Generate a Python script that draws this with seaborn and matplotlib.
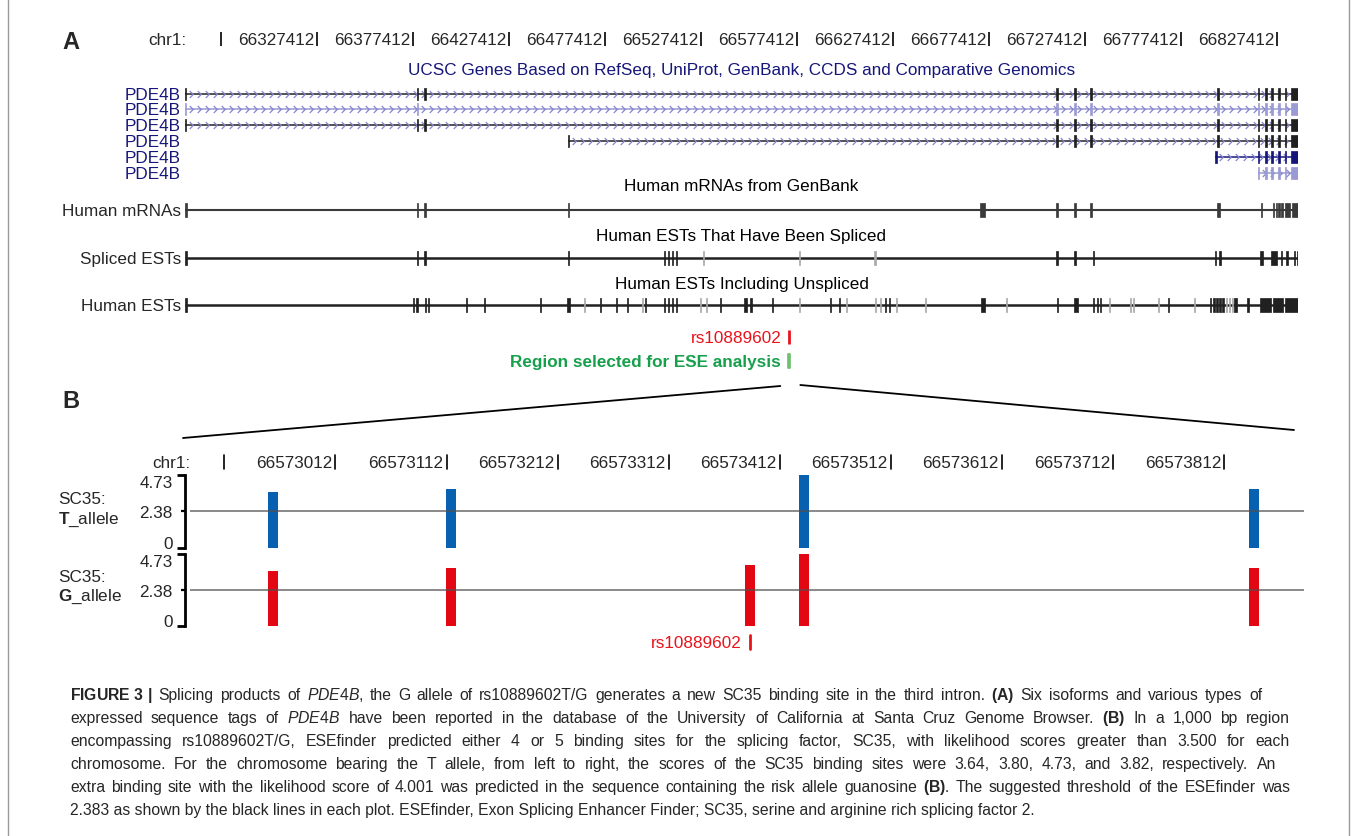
import re
import numpy as np
import pandas as pd
import matplotlib
matplotlib.use("Agg")
import matplotlib.pyplot as plt
import matplotlib.transforms as mtransforms
from matplotlib.path import Path
import seaborn as sns

# ---------------------------------------------------------------- data
# Panel A: UCSC browser view, chr1 positions (bp)
A_START, A_END = 66258700, 66838300
A_TICKS = [66277412, 66327412, 66377412, 66427412, 66477412, 66527412,
           66577412, 66627412, 66677412, 66727412, 66777412, 66827412]
A_TICK_LABELS = ["", "66327412", "66377412", "66427412", "66477412", "66527412",
                 "66577412", "66627412", "66677412", "66727412", "66777412", "66827412"]

ISO_NAMES = ["PDE4B", "PDE4B", "PDE4B", "PDE4B", "PDE4B", "PDE4B"]
ISO_STARTS = [66258700, 66258700, 66258700, 66458100, 66795300, 66817300]
ISO_ENDS = [66838300, 66838300, 66838300, 66838300, 66838300, 66838300]
ISO_EXONS = [
    [(66258700, 700), (66379300, 800), (66383400, 800), (66712500, 700), (66721900, 700),
     (66730200, 700), (66796300, 800), (66817300, 800), (66820900, 1000), (66824100, 1000),
     (66827700, 1000), (66831300, 1000), (66834900, 3400)],
    [(66258700, 700), (66379300, 800), (66712500, 700), (66721900, 700),
     (66730200, 700), (66796300, 800), (66817300, 800), (66820900, 1000), (66824100, 1000),
     (66827700, 1000), (66831300, 1000), (66834900, 3400)],
    [(66258700, 700), (66379300, 800), (66383400, 800), (66712500, 700), (66721900, 700),
     (66730200, 700), (66796300, 800), (66817300, 800), (66820900, 1000), (66824100, 1000),
     (66827700, 1000), (66831300, 1000), (66834900, 3400)],
    [(66458000, 800), (66712500, 700), (66721900, 700), (66730200, 700), (66796300, 800),
     (66817300, 800), (66820900, 1000), (66824100, 1000), (66827700, 1000), (66831300, 1000),
     (66834900, 3400)],
    [(66795300, 900), (66817300, 800), (66820900, 1000), (66824100, 1000), (66827700, 1000),
     (66831300, 1000), (66834900, 3400)],
    [(66817300, 800), (66820900, 1000), (66824100, 1000), (66827700, 1000), (66831300, 1000),
     (66834900, 3400)],
]

TRACK_TITLES = ["UCSC Genes Based on RefSeq, UniProt, GenBank, CCDS and Comparative Genomics",
                "Human mRNAs from GenBank", "Human ESTs That Have Been Spliced",
                "Human ESTs Including Unspliced"]
TRACK_LABELS = ["Human mRNAs", "Spliced ESTs", "Human ESTs"]

MRNA_EXONS = [(66258700, 1300), (66379300, 700), (66383400, 700), (66457900, 700),
              (66672500, 2600), (66712500, 700), (66721900, 700), (66730200, 700),
              (66795900, 1600), (66818800, 1000), (66825100, 600), (66826900, 600),
              (66828100, 600), (66829300, 1400), (66831600, 2600), (66835000, 3300)]

SPLICED_EXONS = [(66258700, 1300), (66379300, 700), (66383400, 700), (66457900, 700),
                 (66508000, 700), (66510100, 700), (66512200, 700), (66514300, 700),
                 (66712500, 700), (66721700, 1200), (66731300, 800), (66794900, 700),
                 (66797400, 700), (66818600, 1300), (66824100, 3400), (66829200, 700),
                 (66832300, 800), (66836000, 800), (66837700, 600)]
SPLICED_GRAY = [(66528300, 700), (66578300, 700), (66617700, 1000)]

EST_EXONS = [(66258700, 1300), (66377300, 900), (66378900, 900), (66383500, 700),
             (66385100, 700), (66404900, 700), (66414300, 700), (66443500, 700),
             (66457700, 1300), (66474700, 700), (66483000, 700), (66488800, 700),
             (66498300, 700), (66508000, 700), (66510100, 700), (66512200, 700),
             (66514300, 700), (66537200, 700), (66550000, 1200), (66552800, 1200),
             (66564300, 700), (66594500, 700), (66599200, 700), (66623100, 700),
             (66625200, 700), (66673300, 2200), (66712600, 700), (66721800, 1700),
             (66731500, 700), (66733600, 700), (66735100, 700), (66770500, 700),
             (66792300, 900), (66794000, 900), (66795600, 900), (66797400, 900),
             (66798700, 900), (66804900, 1600), (66811700, 1000), (66818600, 5800),
             (66825300, 5000), (66831600, 6700)]
EST_GRAY = [(66466400, 700), (66496600, 700), (66526800, 700), (66529900, 700),
            (66578400, 700), (66602800, 700), (66617900, 700), (66620500, 700),
            (66628900, 700), (66644000, 700), (66686200, 700), (66739800, 700),
            (66750700, 700), (66752300, 700), (66765300, 700), (66784100, 700),
            (66800700, 700), (66802300, 700), (66803900, 700)]

SNP_NAME = "rs10889602"
SNP_POS = 66573385
REGION_START, REGION_END = 66572881, 66573884

# Panel B: ESEfinder SC35 scores in the 1 kb region
B_TICKS = [66572912, 66573012, 66573112, 66573212, 66573312, 66573412,
           66573512, 66573612, 66573712, 66573812]
B_TICK_LABELS = ["", "66573012", "66573112", "66573212", "66573312", "66573412",
                 "66573512", "66573612", "66573712", "66573812"]
T_POS = [66572956, 66573116, 66573434, 66573839]
T_SCORE = [3.64, 3.80, 4.73, 3.82]
G_POS = [66572956, 66573116, 66573385, 66573434, 66573839]
G_SCORE = [3.64, 3.80, 4.001, 4.73, 3.82]
THRESHOLD = 2.383
Y_MAX = 4.73

CAPTION = [
    r"$\mathbf{FIGURE\ 3\ |}$ Splicing products of $\mathit{PDE4B}$, the G allele of rs10889602T/G generates a new SC35 binding site in the third intron. $\mathbf{(A)}$ Six isoforms and various types of",
    r"expressed sequence tags of $\mathit{PDE4B}$ have been reported in the database of the University of California at Santa Cruz Genome Browser. $\mathbf{(B)}$ In a 1,000 bp region",
    "encompassing rs10889602T/G, ESEfinder predicted either 4 or 5 binding sites for the splicing factor, SC35, with likelihood scores greater than 3.500 for each",
    "chromosome. For the chromosome bearing the T allele, from left to right, the scores of the SC35 binding sites were 3.64, 3.80, 4.73, and 3.82, respectively. An",
    r"extra binding site with the likelihood score of 4.001 was predicted in the sequence containing the risk allele guanosine $\mathbf{(B)}$. The suggested threshold of the ESEfinder was",
    "2.383 as shown by the black lines in each plot. ESEfinder, Exon Splicing Enhancer Finder; SC35, serine and arginine rich splicing factor 2.",
]
CAPTION_RIGHT = [1262, 1290, 1290, 1276, 1290, None]

# ---------------------------------------------------------------- style
NAVY = "#16167a"
PURPLE = "#9a9ad4"
CHEV = "#8585cc"
DARK = "#202020"
MRNA_C = "#3a3a3a"
GRAY_EXON = "#a8a8a8"
RED = "#e8141c"
BAR_RED = "#e30613"
BLUE = "#0861b0"
GREEN = "#17a04b"
LIGHT_GREEN = "#6cc070"
FS = 12.3
CAP_FS = 11.3

sns.set_theme(style="white")
plt.rcParams["font.family"] = ["Liberation Sans", "DejaVu Sans"]
plt.rcParams.update({
    "mathtext.fontset": "custom",
    "mathtext.rm": "Liberation Sans",
    "mathtext.it": "Liberation Sans:italic",
    "mathtext.bf": "Liberation Sans:bold",
})

W, H = 1355, 837
fig = plt.figure(figsize=(W / 100, H / 100), dpi=100)
fig.patch.set_facecolor("white")


def px_axes(x0, x1, y0, y1):
    return fig.add_axes([x0 / W, 1 - y1 / H, (x1 - x0) / W, (y1 - y0) / H])


# overlay in figure pixels (y downwards)
ax0 = px_axes(0, W, 0, H)
ax0.set_xlim(0, W)
ax0.set_ylim(H, 0)
ax0.axis("off")
ax0.plot([8, 8], [0, H], color="#9a9a9a", lw=1)
ax0.plot([1349, 1349], [0, H], color="#9a9a9a", lw=1)

# ---------------------------------------------------------------- panel A
axA = px_axes(185, 1298, 0, H)
axA.set_xlim(A_START, A_END)
axA.set_ylim(H, 0)
axA.axis("off")
bp_px = (A_END - A_START) / 1113.0

ax0.text(62, 42, "A", fontsize=17, fontweight="bold", va="center")
ax0.text(186, 40, "chr1:", fontsize=FS, ha="right", va="center")
shiftA = mtransforms.offset_copy(axA.transData, fig=fig, x=-3, y=0, units="dots")
axA.vlines(A_TICKS, 33, 47, color="black", lw=1.2)
for t, lab in zip(A_TICKS, A_TICK_LABELS):
    if lab:
        axA.text(t, 40, lab, transform=shiftA, ha="right", va="center", fontsize=FS)

midA = mtransforms.blended_transform_factory(axA.transAxes, axA.transData)
for title, y in zip(TRACK_TITLES, [70, 186, 236, 284]):
    axA.text(0.5, y, title, transform=midA, ha="center", va="center", fontsize=FS,
             color=NAVY if y == 70 else "black")

chevron = Path([(-0.5, 1), (0.5, 0), (-0.5, -1)], [Path.MOVETO, Path.LINETO, Path.LINETO])
iso_line = [DARK, PURPLE, DARK, DARK, NAVY, PURPLE]
iso_exon = [DARK, PURPLE, DARK, DARK, NAVY, PURPLE]
for i, (name, s, e, ex) in enumerate(zip(ISO_NAMES, ISO_STARTS, ISO_ENDS, ISO_EXONS)):
    y = [95, 110, 126, 142, 158, 174][i]
    ax0.text(181, y, name, ha="right", va="center", fontsize=FS, color=NAVY)
    axA.plot([s, e], [y, y], color=iso_line[i], lw=1.1, solid_capstyle="butt", zorder=2)
    xs = np.arange(s + 6 * bp_px, e - 4 * bp_px, 8 * bp_px)
    axA.plot(xs, np.full(len(xs), y), ls="none", marker=chevron, ms=5, mfc="none",
             mec=CHEV, mew=0.9, zorder=3)
    axA.broken_barh(ex, (y - 6, 12), facecolors=iso_exon[i], edgecolors=iso_exon[i],
                    linewidth=0.5, zorder=4)


def draw_track(y, label, exons, gray=(), lw=1.6, color=DARK):
    ax0.text(181, y, label, ha="right", va="center", fontsize=FS)
    axA.plot([A_START, A_END], [y, y], color=color, lw=lw, solid_capstyle="butt", zorder=2)
    if gray:
        axA.broken_barh(list(gray), (y - 7, 14), facecolors=GRAY_EXON, edgecolors=GRAY_EXON,
                        linewidth=0.5, zorder=3)
    axA.broken_barh(exons, (y - 7, 14), facecolors=color, edgecolors=color,
                    linewidth=0.5, zorder=4)


draw_track(211, TRACK_LABELS[0], MRNA_EXONS, lw=1.5, color=MRNA_C)
draw_track(259, TRACK_LABELS[1], SPLICED_EXONS, SPLICED_GRAY, lw=1.8)
draw_track(306, TRACK_LABELS[2], EST_EXONS, EST_GRAY, lw=1.8)

axA.annotate(SNP_NAME, xy=(SNP_POS, 338), xytext=(-8, 0), textcoords="offset pixels",
             ha="right", va="center", fontsize=FS, color=RED)
axA.vlines(SNP_POS, 331, 345, color=RED, lw=2)
axA.annotate("Region selected for ESE analysis", xy=(REGION_START, 362), xytext=(-8, 0),
             textcoords="offset pixels", ha="right", va="center", fontsize=FS,
             fontweight="bold", color=GREEN)
axA.broken_barh([(REGION_START, REGION_END - REGION_START)], (355, 14),
                facecolors=LIGHT_GREEN, edgecolors=LIGHT_GREEN, linewidth=1.2)

# ---------------------------------------------------------------- panel B
ax0.text(62, 402, "B", fontsize=17, fontweight="bold", va="center")
axT = px_axes(190, 1304, 476, 549)
axG = px_axes(190, 1304, 555, 627)

for ax, pos, score, col in [(axT, T_POS, T_SCORE, BLUE), (axG, G_POS, G_SCORE, BAR_RED)]:
    df = pd.DataFrame({"position": pos, "score": score})
    native = np.diff(np.unique(pos)).min()
    sns.barplot(data=df, x="position", y="score", native_scale=True, orient="x",
                color=col, saturation=1, width=9 / native, errorbar=None,
                linewidth=0, ax=ax)
    ax.set_xlim(REGION_START, REGION_END)
    ax.set_ylim(0, Y_MAX)
    ax.set(xlabel="", ylabel="")
    ax.set_xticks([])
    ax.set_facecolor("none")
    ax.axhline(THRESHOLD, color="#505050", lw=1.1, alpha=0.85, zorder=5)
    for side in ["top", "right", "bottom"]:
        ax.spines[side].set_visible(False)
    ax.spines["left"].set_color("black")
    ax.spines["left"].set_linewidth(2)
    ax.spines["left"].set_position(("outward", 3.6))
    ax.set_yticks([0, Y_MAX])
    ax.set_yticklabels(["0", "4.73"])
    ax.set_yticks([2.38], minor=True)
    ax.set_yticklabels(["2.38"], minor=True)
    ax.tick_params(axis="y", which="major", left=True, length=6, width=2, pad=3,
                   labelsize=FS, color="black")
    ax.tick_params(axis="y", which="minor", left=True, length=3, width=1.6, pad=6,
                   labelsize=FS, color="black")
    ax.get_yticklabels()[1].set_va("top")
    ax.get_yticklabels()[0].set_va("baseline")
    ax.grid(False)

ax0.text(58, 500, "SC35:", ha="left", va="center", fontsize=FS)
ax0.text(58, 520, r"$\mathbf{T}$_allele", ha="left", va="center", fontsize=FS)
ax0.text(58, 577, "SC35:", ha="left", va="center", fontsize=FS)
ax0.text(58, 597, r"$\mathbf{G}$_allele", ha="left", va="center", fontsize=FS)

transB = mtransforms.blended_transform_factory(axT.transData, ax0.transData)
shiftB = mtransforms.offset_copy(transB, fig=fig, x=-3, y=0, units="dots")
ax0.text(190, 463, "chr1:", ha="right", va="center", fontsize=FS)
for t, lab in zip(B_TICKS, B_TICK_LABELS):
    axT.plot([t, t], [456, 470], transform=transB, color="black", lw=1.2, clip_on=False)
    if lab:
        axT.text(t, 463, lab, transform=shiftB, ha="right", va="center", fontsize=FS)

axG.text(SNP_POS, 643, SNP_NAME, transform=mtransforms.offset_copy(transB, fig=fig, x=-8, units="dots"),
         ha="right", va="center", fontsize=FS, color=RED)
axG.plot([SNP_POS, SNP_POS], [636, 650], transform=transB, color=RED, lw=2, clip_on=False)

# zoom lines from the selected region down to panel B
mark_px = axA.transData.transform((REGION_START, 0))[0]
b_left = axT.transAxes.transform((0, 0))[0]
b_right = axT.transAxes.transform((1, 0))[0]
ax0.plot([b_left - 7, mark_px - 8], [439, 387], color="black", lw=1.3)
ax0.plot([mark_px + 12, b_right - 10], [386, 431], color="black", lw=1.3)

# ---------------------------------------------------------------- caption (justified)
renderer = fig.canvas.get_renderer()
for i, (line, right) in enumerate(zip(CAPTION, CAPTION_RIGHT)):
    y = 700 + 23 * i  # baseline
    if right is None:
        ax0.text(70, y, line, ha="left", va="baseline", fontsize=CAP_FS)
        continue
    tokens = re.findall(r"(?:\$[^$]*\$|[^\s$])+", line)
    words = [ax0.text(0, y, w, ha="left", va="baseline", fontsize=CAP_FS) for w in tokens]
    widths = [w.get_window_extent(renderer).width for w in words]
    gap = (right - 70 - sum(widths)) / (len(words) - 1)
    x = 70.0
    for w, wd in zip(words, widths):
        w.set_x(x)
        x += wd + gap

fig.savefig("out.png", dpi=100)
